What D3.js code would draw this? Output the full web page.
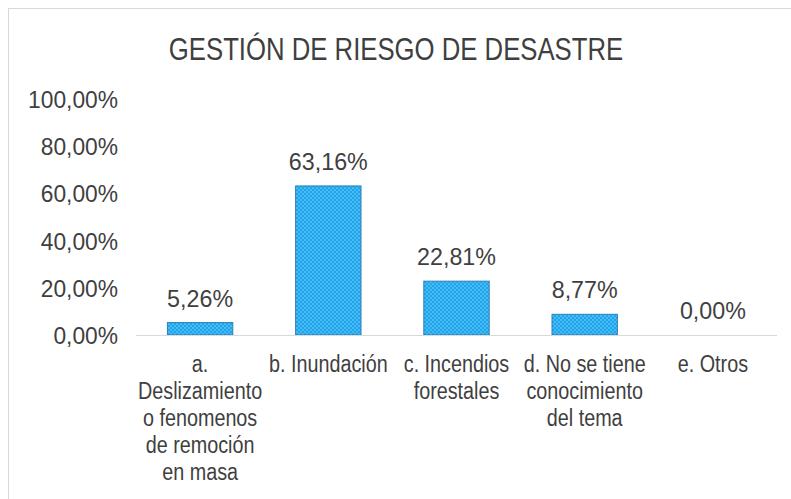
<!DOCTYPE html>
<html>
<head>
<meta charset="utf-8">
<script src="https://cdn.jsdelivr.net/npm/d3@7"></script>
<style>
  body { margin: 0; background: #fff; }
  text { font-family: "Liberation Sans", Arial, sans-serif; fill: #3f3f3f; }
</style>
</head>
<body>
<div id="vis1"></div>
<script>
const FRAME_WIDTH = 791;
const FRAME_HEIGHT = 499;
const MARGINS = {left: 136, right: 14, top: 99, bottom: 164};

// data
const categories = [
  ["a.", "Deslizamiento", "o fenomenos", "de remoción", "en masa"],
  ["b. Inundación"],
  ["c. Incendios", "forestales"],
  ["d. No se tiene", "conocimiento", "del tema"],
  ["e. Otros"]
];
const values = [0.0526, 0.6316, 0.2281, 0.0877, 0.0];
const yTicks = [0, 0.2, 0.4, 0.6, 0.8, 1.0];
const title = "GESTIÓN DE RIESGO DE DESASTRE";

const VIS_WIDTH = FRAME_WIDTH - MARGINS.left - MARGINS.right;
const VIS_HEIGHT = FRAME_HEIGHT - MARGINS.top - MARGINS.bottom;

const fmt = (v) => (v * 100).toFixed(2).replace(".", ",") + "%";

const svg = d3.select("#vis1")
  .append("svg")
    .attr("width", FRAME_WIDTH)
    .attr("height", FRAME_HEIGHT);

// dotted fill
const pat = svg.append("defs").append("pattern")
  .attr("id", "dots")
  .attr("width", 4).attr("height", 4)
  .attr("patternUnits", "userSpaceOnUse");
pat.append("rect").attr("width", 4).attr("height", 4).attr("fill", "#19a6ee");
pat.append("circle").attr("cx", 1).attr("cy", 1).attr("r", 0.8).attr("fill", "#8fd3f7");
pat.append("circle").attr("cx", 3).attr("cy", 3).attr("r", 0.8).attr("fill", "#8fd3f7");

// chart border (only left and top show)
svg.append("rect")
  .attr("x", 8.5).attr("y", 8.5)
  .attr("width", FRAME_WIDTH + 10).attr("height", FRAME_HEIGHT + 10)
  .attr("fill", "none")
  .attr("stroke", "#d9d9d9");

// condensed-looking text: squeeze horizontally
function narrowText(parent, x, y, size, sx, anchor, str) {
  return parent.append("text")
    .attr("transform", `translate(${x},${y}) scale(${sx},1)`)
    .attr("text-anchor", anchor)
    .attr("font-size", size)
    .text(str);
}

narrowText(svg, 396, 60, 31, 0.83, "middle", title);

const X_SCALE = d3.scaleBand()
  .domain(d3.range(values.length))
  .range([0, VIS_WIDTH])
  .paddingInner(0.49)
  .paddingOuter(0.245);

const Y_SCALE = d3.scaleLinear()
  .domain([0, 1])
  .range([VIS_HEIGHT, 0]);

const g = svg.append("g")
  .attr("transform", `translate(${MARGINS.left},${MARGINS.top})`);

// y tick labels (no axis line)
yTicks.forEach((t) => {
  narrowText(g, -18, Y_SCALE(t) + 9, 24, 0.95, "end", fmt(t));
});

g.selectAll(".bar")
  .data(values)
  .enter()
  .append("rect")
    .attr("class", "bar")
    .attr("x", (d, i) => X_SCALE(i))
    .attr("y", (d) => Y_SCALE(d))
    .attr("width", X_SCALE.bandwidth())
    .attr("height", (d) => VIS_HEIGHT - Y_SCALE(d))
    .attr("fill", "url(#dots)")
    .attr("stroke", "#2a7fb8")
    .attr("stroke-width", 1);

// baseline
g.append("line")
  .attr("x1", 0).attr("x2", VIS_WIDTH)
  .attr("y1", VIS_HEIGHT + 0.5).attr("y2", VIS_HEIGHT + 0.5)
  .attr("stroke", "#d9d9d9");

// value labels
values.forEach((v, i) => {
  narrowText(g, X_SCALE(i) + X_SCALE.bandwidth() / 2, Y_SCALE(v) - 16, 24, 0.97, "middle", fmt(v));
});

// category labels
categories.forEach((lines, i) => {
  lines.forEach((line, j) => {
    narrowText(g, X_SCALE(i) + X_SCALE.bandwidth() / 2, VIS_HEIGHT + 37 + j * 27, 23, 0.86, "middle", line);
  });
});
</script>
</body>
</html>
